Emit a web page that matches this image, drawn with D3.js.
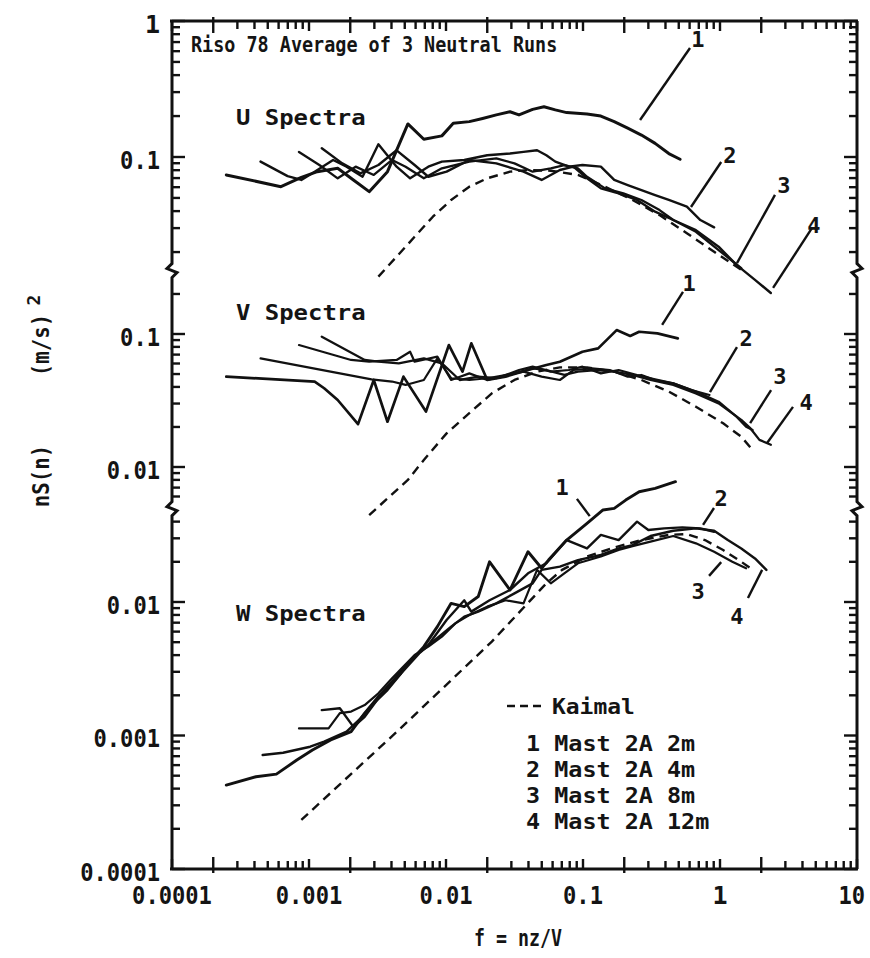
<!DOCTYPE html>
<html><head><meta charset="utf-8">
<script src="https://cdn.jsdelivr.net/npm/d3@7"></script>
<style>
body{margin:0;background:#fff;}
svg text{font-family:"DejaVu Sans Mono",monospace;font-weight:bold;fill:#141414;}
</style></head>
<body><svg id="c" width="870" height="958"></svg>
<script>
// ---------------- data (f = nz/V , nS(n) in (m/s)^2) ----------------
const xTickValues = [1e-4, 1e-3, 1e-2, 1e-1, 1, 10];
const xTickLabels = ["0.0001", "0.001", "0.01", "0.1", "1", "10"];
const uTickValues = [1, 0.1];
const uTickLabels = ["1", "0.1"];
const vTickValues = [0.1, 0.01];
const vTickLabels = ["0.1", "0.01"];
const wTickValues = [0.01, 0.001, 0.0001];
const wTickLabels = ["0.01", "0.001", "0.0001"];
const panelNames = ["U Spectra", "V Spectra", "W Spectra"];
const legendLabels = ["Kaimal", "1 Mast 2A 2m", "2 Mast 2A 4m", "3 Mast 2A 8m", "4 Mast 2A 12m"];

// U spectra
const U1 = [[2.49e-4,0.0738],[6.24e-4,0.0605],[8.79e-4,0.0708],[1.15e-3,0.078],[1.62e-3,0.0826],[2.11e-3,0.0678],[2.75e-3,0.0556],[3.74e-3,0.078],[5.27e-3,0.175],[6.89e-3,0.135],[9.33e-3,0.143],[0.0113,0.177],[0.0148,0.182],[0.0185,0.192],[0.0233,0.204],[0.0293,0.215],[0.0341,0.204],[0.0429,0.224],[0.0519,0.234],[0.0628,0.222],[0.076,0.212],[0.107,0.207],[0.135,0.2],[0.169,0.182],[0.212,0.163],[0.267,0.145],[0.336,0.126],[0.423,0.106],[0.511,0.0962]];
const U2 = [[4.43e-4,0.0925],[6.98e-4,0.0724],[8.79e-4,0.0678],[1.1e-3,0.078],[1.5e-3,0.0951],[1.88e-3,0.0849],[2.46e-3,0.0716],[3.21e-3,0.124],[4.36e-3,0.0849],[5.47e-3,0.0697],[7.43e-3,0.0849],[9.33e-3,0.0925],[0.0136,0.0951],[0.02,0.103],[0.0293,0.106],[0.0368,0.109],[0.0462,0.112],[0.054,0.103],[0.0628,0.0925],[0.0789,0.0849],[0.0991,0.0873],[0.135,0.0849],[0.169,0.0678],[0.212,0.0622],[0.267,0.0571],[0.336,0.0525],[0.423,0.0483],[0.573,0.0432],[0.719,0.0344],[0.906,0.0304]];
const U3 = [[8.45e-4,0.109],[1.19e-3,0.0873],[1.62e-3,0.0697],[2.19e-3,0.0849],[2.97e-3,0.0738],[4.04e-3,0.0951],[5.07e-3,0.0849],[6.89e-3,0.0697],[9.33e-3,0.0826],[0.0148,0.0925],[0.0233,0.0977],[0.0316,0.0898],[0.0429,0.078],[0.0582,0.0826],[0.0731,0.0873],[0.0918,0.0826],[0.107,0.0716],[0.145,0.0588],[0.197,0.0541],[0.267,0.0483],[0.362,0.0407],[0.456,0.0344],[0.667,0.0282],[0.977,0.0207],[1.43,0.0152]];
const U4 = [[1.24e-3,0.116],[1.75e-3,0.0898],[2.37e-3,0.0759],[3.21e-3,0.0873],[4.36e-3,0.112],[5.9e-3,0.0873],[7.43e-3,0.0716],[0.0101,0.078],[0.0148,0.0951],[0.0233,0.0898],[0.0368,0.078],[0.0499,0.0678],[0.0678,0.0802],[0.0851,0.0849],[0.107,0.0697],[0.135,0.0588],[0.182,0.0541],[0.248,0.0483],[0.336,0.0396],[0.456,0.0344],[0.667,0.029],[0.977,0.0219],[1.32,0.0161],[1.8,0.0125],[2.35,0.01]];
const UK = [[3.21e-3,0.0132],[4.36e-3,0.0185],[5.9e-3,0.0259],[8.02e-3,0.0364],[0.0109,0.0483],[0.0148,0.0605],[0.02,0.0697],[0.0293,0.078],[0.0397,0.0802],[0.0582,0.0793],[0.0918,0.0738],[0.145,0.0605],[0.23,0.0483],[0.362,0.0374],[0.573,0.0275],[0.906,0.0201],[1.43,0.0148]];

// V spectra
const V1 = [[2.49e-4,0.0478],[1.1e-3,0.0439],[1.29e-3,0.0391],[1.62e-3,0.0319],[2.28e-3,0.021],[2.97e-3,0.0451],[3.74e-3,0.0219],[4.89e-3,0.0478],[7.14e-3,0.0261],[0.0105,0.0826],[0.0132,0.0521],[0.0153,0.0851],[0.02,0.0451],[0.0272,0.0478],[0.0397,0.0536],[0.054,0.0585],[0.0678,0.0619],[0.0991,0.0736],[0.129,0.078],[0.176,0.107],[0.221,0.0966],[0.257,0.104],[0.349,0.101],[0.492,0.0927]];
const V2 = [[4.43e-4,0.0656],[2.86e-3,0.0456],[4.04e-3,0.0439],[5.07e-3,0.0414],[6.89e-3,0.0451],[8.65e-3,0.0656],[0.0109,0.0465],[0.0148,0.0451],[0.02,0.0465],[0.0272,0.0492],[0.0368,0.0521],[0.0499,0.0478],[0.0678,0.0451],[0.0851,0.0536],[0.116,0.0552],[0.157,0.0536],[0.212,0.0478],[0.267,0.0492],[0.336,0.0451],[0.456,0.0426],[0.618,0.0379],[0.838,0.0348]];
const V3 = [[8.45e-4,0.0826],[2.03e-3,0.0638],[2.75e-3,0.0619],[4.36e-3,0.0638],[5.47e-3,0.0736],[5.9e-3,0.0619],[8.65e-3,0.0676],[0.0109,0.0451],[0.0148,0.0506],[0.02,0.0451],[0.0252,0.0478],[0.0341,0.0536],[0.0429,0.0568],[0.0582,0.0521],[0.0789,0.0536],[0.0991,0.0568],[0.135,0.0506],[0.182,0.0536],[0.248,0.0492],[0.311,0.0465],[0.456,0.0426],[0.667,0.0369],[0.977,0.031],[1.32,0.0239],[1.55,0.0201],[1.73,0.019]];
const V4 = [[1.24e-3,0.0955],[2.55e-3,0.0638],[3.21e-3,0.0619],[4.52e-3,0.0601],[6.89e-3,0.0656],[9.33e-3,0.0601],[0.0126,0.0451],[0.0172,0.0478],[0.0233,0.0465],[0.0316,0.0506],[0.0429,0.0552],[0.054,0.0536],[0.0731,0.0492],[0.0918,0.0521],[0.125,0.0536],[0.169,0.0521],[0.23,0.0492],[0.311,0.0451],[0.456,0.0414],[0.667,0.0358],[0.977,0.0301],[1.43,0.0226],[1.67,0.0195],[1.94,0.016],[2.35,0.0147]];
const VK = [[2.75e-3,0.00435],[5.27e-3,0.008],[6.89e-3,0.0113],[0.0101,0.0179],[0.0148,0.0254],[0.0216,0.0358],[0.0316,0.0451],[0.0462,0.0521],[0.0678,0.0561],[0.107,0.0561],[0.169,0.0521],[0.267,0.0451],[0.423,0.0369],[0.667,0.0284],[1.054,0.0213],[1.43,0.0169],[1.73,0.0134]];

// W spectra
const W1 = [[2.49e-4,0.000425],[4.1e-4,0.000491],[5.78e-4,0.000514],[8.15e-4,0.000655],[1.06e-3,0.000778],[1.44e-3,0.000925],[2.03e-3,0.00107],[2.55e-3,0.00147],[3.21e-3,0.00195],[4.04e-3,0.00253],[5.07e-3,0.00328],[6.89e-3,0.00463],[8.65e-3,0.00654],[0.0109,0.00977],[0.0136,0.00923],[0.0172,0.011],[0.0208,0.02],[0.0293,0.0123],[0.0397,0.0238],[0.0499,0.0179],[0.056,0.0206],[0.076,0.0291],[0.107,0.0388],[0.14,0.0489],[0.169,0.0503],[0.205,0.058],[0.257,0.067],[0.336,0.071],[0.473,0.0796]];
const W2 = [[4.59e-4,0.000714],[6.47e-4,0.000743],[1.02e-3,0.000824],[1.29e-3,0.000899],[1.88e-3,0.00107],[2.37e-3,0.00134],[2.97e-3,0.00174],[3.74e-3,0.00219],[4.7e-3,0.00292],[5.69e-3,0.00378],[7.43e-3,0.00476],[0.0101,0.00733],[0.0136,0.0103],[0.0153,0.00847],[0.0208,0.0103],[0.0293,0.0123],[0.0397,0.0164],[0.054,0.0195],[0.076,0.0291],[0.107,0.0252],[0.135,0.0318],[0.182,0.0291],[0.248,0.04],[0.3,0.0346],[0.391,0.0356],[0.531,0.0362],[0.719,0.0356],[0.906,0.0336]];
const W3 = [[8.45e-4,0.00113],[1.39e-3,0.00113],[1.68e-3,0.00147],[2.03e-3,0.00151],[2.55e-3,0.00169],[3.21e-3,0.00207],[4.04e-3,0.00268],[4.89e-3,0.00328],[5.9e-3,0.00401],[7.43e-3,0.00463],[9.33e-3,0.0055],[0.0117,0.00692],[0.0148,0.008],[0.02,0.00923],[0.0272,0.0103],[0.0368,0.00977],[0.0462,0.0174],[0.0582,0.0138],[0.076,0.0169],[0.0918,0.0195],[0.135,0.0219],[0.182,0.0245],[0.23,0.0262],[0.311,0.0283],[0.456,0.0312],[0.667,0.0275],[0.906,0.0238],[1.23,0.02],[1.55,0.0179]];
const W4 = [[1.24e-3,0.00155],[1.68e-3,0.0016],[2.11e-3,0.00116],[2.55e-3,0.00138],[3.21e-3,0.0019],[4.04e-3,0.00246],[5.07e-3,0.00318],[6.37e-3,0.00412],[8.02e-3,0.00505],[0.0109,0.00654],[0.0136,0.00777],[0.0172,0.00847],[0.0233,0.00977],[0.0316,0.0116],[0.0429,0.0138],[0.0499,0.0174],[0.0678,0.0184],[0.0918,0.0206],[0.135,0.0225],[0.182,0.0252],[0.23,0.0267],[0.311,0.0312],[0.456,0.0342],[0.667,0.0356],[0.906,0.0342],[1.14,0.0291],[1.43,0.0252],[1.8,0.0212],[2.18,0.0174]];
const WK = [[8.79e-4,0.000233],[4.52e-3,0.0011],[0.0216,0.00505],[0.054,0.0138],[0.0703,0.0174],[0.107,0.0219],[0.169,0.0256],[0.267,0.0291],[0.423,0.0318],[0.573,0.0323],[0.776,0.0291],[1.054,0.0245],[1.43,0.02],[1.67,0.0179]];

// curve number annotations (text anchor and leader line, in data units)
const curveLabels = [
  ["U","1",0.69,0.725],["U","2",1.18,0.103],["U","3",2.93,0.0622],["U","4",4.85,0.0316],
  ["V","1",0.594,0.241],["V","2",1.55,0.0933],["V","3",2.74,0.0475],["V","4",4.25,0.0308],
  ["W","1",0.0703,0.0726],["W","2",1.02,0.0601],["W","3",0.691,0.0119],["W","4",1.33,0.00773]
];
const leaderLines = [
  ["U",0.261,0.187,0.604,0.633],["U",0.614,0.0429,1.02,0.0919],["U",1.33,0.0166,2.52,0.0526],["U",2.44,0.0109,4.7,0.0301],
  ["V",0.378,0.117,0.537,0.207],["V",0.845,0.0366,1.33,0.0798],["V",1.66,0.0214,2.36,0.0379],["V",2.2,0.0151,3.41,0.0283],
  ["W",0.0903,0.0592,0.112,0.044],["W",0.904,0.0506,0.752,0.0378],["W",0.832,0.0157,1.02,0.0199],["W",1.6,0.0107,2.03,0.0174]
];
// axis-break levels (V scale value of U/V break, W scale value of V/W break)
const breakV = 0.3, breakW = 0.05;

// ---------------- drawing ----------------
const svg = d3.select("#c");
const INK = "#111";
const L = 172, R = 857, T = 21, B = 869;
const x = d3.scaleLog().domain([1e-4, 10]).range([L, R]);
const yU = d3.scaleLog().domain([0.01, 1]).range([293, 21]);
const yV = d3.scaleLog().domain([0.01, 0.1]).range([467, 334]);
const yW = d3.scaleLog().domain([1e-4, 0.01]).range([B, 602]);
const ys = {U: yU, V: yV, W: yW};
const brk1 = yV(breakV), brk2 = yW(breakW);

function txt(sel, s, w) {
  sel.text(s);
  if (s.length > 1 && w) sel.attr("textLength", s.length * w).attr("lengthAdjust", "spacingAndGlyphs");
  return sel;
}

// frame with breaks on left and right
function sidePath(xx, dir) {
  const z = (b) => `L${xx},${b - 7} L${xx - 5 * dir},${b - 2} L${xx + 5 * dir},${b + 2} L${xx},${b + 7}`;
  return `M${xx},${T} ${z(brk1)} ${z(brk2)} L${xx},${B}`;
}
const frame = svg.append("g").attr("fill", "none").attr("stroke", INK).attr("stroke-width", 3);
frame.append("path").attr("d", sidePath(L, 1));
frame.append("path").attr("d", sidePath(R, -1));
frame.append("line").attr("x1", L - 2).attr("x2", R + 1).attr("y1", T).attr("y2", T);
frame.append("line").attr("x1", L - 2).attr("x2", R + 1).attr("y1", B).attr("y2", B);

// x ticks (top & bottom)
const ticks = svg.append("g").attr("stroke", INK).attr("stroke-width", 2.4);
const xMinor = [];
for (let k = -4; k <= 0; k++) for (let m = 1; m <= 9; m++) xMinor.push({v: m * Math.pow(10, k), m});
xMinor.push({v: 10, m: 1});
xMinor.forEach(t => {
  const px = x(t.v);
  const len = t.m === 2 ? 12 : (t.m === 1 ? 10 : 8);
  const out = t.m === 2 ? 4 : 0;
  ticks.append("line").attr("x1", px).attr("x2", px).attr("y1", B + out).attr("y2", B - len);
  ticks.append("line").attr("x1", px).attr("x2", px).attr("y1", T - out).attr("y2", T + len);
});
// y ticks (left & right), per panel
function yTicks(scale, lo, hi) {
  for (let k = -4; k <= 0; k++) for (let m = 1; m <= 9; m++) {
    const v = m * Math.pow(10, k);
    const py = scale(v);
    if (py < lo || py > hi) continue;
    const len = m === 1 ? 13 : 8;
    ticks.append("line").attr("x1", L).attr("x2", L + len).attr("y1", py).attr("y2", py);
    ticks.append("line").attr("x1", R).attr("x2", R - len).attr("y1", py).attr("y2", py);
  }
}
yTicks(yU, T, brk1 - 8);
yTicks(yV, brk1 + 8, brk2 - 8);
yTicks(yW, brk2 + 8, B);

// tick labels
const lab = svg.append("g").attr("font-size", 25);
xTickValues.forEach((v, i) => {
  const last = i === xTickValues.length - 1;
  txt(lab.append("text").attr("x", last ? x(v) + 8 : x(v)).attr("y", 895)
    .attr("text-anchor", last ? "end" : "middle")
    .attr("dominant-baseline", "central"), xTickLabels[i], 13.3);
});
function yLabels(vals, labs, scale) {
  vals.forEach((v, i) => {
    txt(lab.append("text").attr("x", 160).attr("y", scale(v) + 3).attr("text-anchor", "end")
      .attr("dominant-baseline", "central"), labs[i], 13.3);
  });
}
yLabels(uTickValues, uTickLabels, yU);
yLabels(vTickValues, vTickLabels, yV);
yLabels(wTickValues, wTickLabels, yW);

// axis titles
txt(svg.append("text").attr("x", 518).attr("y", 938).attr("text-anchor", "middle")
  .attr("dominant-baseline", "central").attr("font-size", 23), "f = nz/V", 11);
const yt = svg.append("g").attr("font-size", 23);
txt(yt.append("text").attr("transform", "translate(41,476) rotate(-90)").attr("text-anchor", "middle")
  .attr("dominant-baseline", "central"), "nS(n)", 12.5);
txt(yt.append("text").attr("transform", "translate(41,345) rotate(-90)").attr("text-anchor", "middle")
  .attr("dominant-baseline", "central"), "(m/s)", 12.5);
yt.append("text").attr("transform", "translate(33,300) rotate(-90)").attr("text-anchor", "middle")
  .attr("dominant-baseline", "central").attr("font-size", 18).text("2");

// title and panel names
txt(svg.append("text").attr("x", 191).attr("y", 52).attr("font-size", 22), "Riso 78 Average of 3 Neutral Runs", 11.1);
const pn = svg.append("g").attr("font-size", 22);
[[panelNames[0], yU(0.1) - 32], [panelNames[1], yV(0.1) - 14], [panelNames[2], yW(0.01) + 19]].forEach(d => {
  txt(pn.append("text").attr("x", 236).attr("y", d[1]), d[0], 14.4);
});

// curves
const series = [
  ["U", U1, 3.0], ["U", U2, 2.4], ["U", U3, 2.3], ["U", U4, 2.4],
  ["V", V1, 2.7], ["V", V2, 2.2], ["V", V3, 2.2], ["V", V4, 2.3],
  ["W", W1, 2.9], ["W", W2, 2.4], ["W", W3, 2.2], ["W", W4, 2.4]
];
const cg = svg.append("g").attr("fill", "none").attr("stroke", INK).attr("stroke-linejoin", "round").attr("stroke-linecap", "round");
series.forEach(s => {
  const ln = d3.line().x(d => x(d[0])).y(d => ys[s[0]](d[1]));
  cg.append("path").attr("d", ln(s[1])).attr("stroke-width", s[2]);
});
[["U", UK], ["V", VK], ["W", WK]].forEach(s => {
  const ln = d3.line().x(d => x(d[0])).y(d => ys[s[0]](d[1]));
  cg.append("path").attr("d", ln(s[1])).attr("stroke-width", 2.4).attr("stroke-linecap", "butt").attr("stroke-dasharray", "9,6");
});

// curve labels and leader lines
const an = svg.append("g");
leaderLines.forEach(d => {
  const sc = ys[d[0]];
  an.append("line").attr("x1", x(d[1])).attr("y1", sc(d[2])).attr("x2", x(d[3])).attr("y2", sc(d[4]))
    .attr("stroke", INK).attr("stroke-width", 2.4);
});
curveLabels.forEach(d => {
  an.append("text").attr("x", x(d[2])).attr("y", ys[d[0]](d[3])).attr("text-anchor", "middle")
    .attr("dominant-baseline", "central").attr("font-size", 22).text(d[1]);
});

// legend (layout positions in pixels)
const lg = svg.append("g").attr("font-size", 22);
const legY = [706, 743, 769, 795, 821];
lg.append("line").attr("x1", 507).attr("x2", 545).attr("y1", legY[0]).attr("y2", legY[0])
  .attr("stroke", INK).attr("stroke-width", 2.4).attr("stroke-dasharray", "8,5");
txt(lg.append("text").attr("x", 552).attr("y", legY[0]).attr("dominant-baseline", "central"), legendLabels[0], 13.8);
legendLabels.slice(1).forEach((s, i) => {
  txt(lg.append("text").attr("x", 526).attr("y", legY[i + 1]).attr("dominant-baseline", "central"), s, 14.1);
});
</script>
</body></html>
